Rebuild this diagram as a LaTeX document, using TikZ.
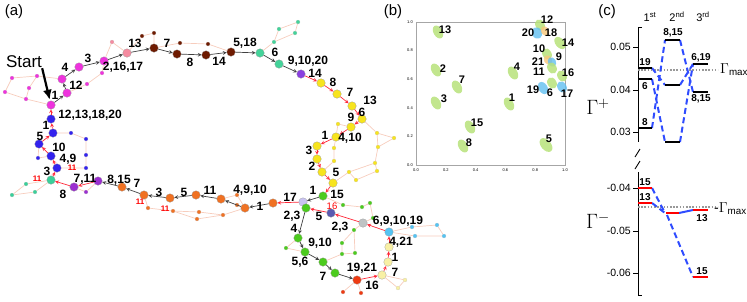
\documentclass[tikz,border=0pt]{standalone}
\usepackage{fontspec}
\setmainfont{Liberation Sans}
\usetikzlibrary{arrows.meta}
\definecolor{cmag}{HTML}{EE33DD}
\definecolor{cpink}{HTML}{F58BA0}
\definecolor{cbrown}{HTML}{6E1A00}
\definecolor{cmint}{HTML}{44D39A}
\definecolor{cviol}{HTML}{8A3FE0}
\definecolor{cyel}{HTML}{F7E41E}
\definecolor{cgreen}{HTML}{4CCB1E}
\definecolor{clav}{HTML}{C9C3F2}
\definecolor{cslate}{HTML}{5A5AB0}
\definecolor{cgray}{HTML}{BFC3C4}
\definecolor{ccyan}{HTML}{55C3F2}
\definecolor{ccream}{HTML}{F8F0A5}
\definecolor{cred}{HTML}{EE3A12}
\definecolor{corange}{HTML}{F07122}
\definecolor{cpurp}{HTML}{9B2FD0}
\definecolor{cteal}{HTML}{3ACF9A}
\definecolor{cblue}{HTML}{3322EE}
\definecolor{faint}{HTML}{F7CDBD}
\definecolor{redarr}{HTML}{FF2838}
\definecolor{dashblue}{HTML}{2F4CFF}
\definecolor{eg}{HTML}{B7E27A}
\definecolor{eb}{HTML}{62BFF0}
\definecolor{eo}{HTML}{F7C77A}
\begin{document}
\begin{tikzpicture}[x=1pt, y=-1pt, every node/.style={font=\small},
  big/.style={circle, draw=black!45, line width=0.2pt, minimum size=8.5pt, inner sep=0pt},
  sat/.style={circle, draw=black!25, line width=0.1pt, minimum size=4pt, inner sep=0pt},
  lab/.style={font=\bfseries\fontsize{12}{12}\selectfont, inner sep=0pt},
  rlab/.style={font=\bfseries\fontsize{8}{8}\selectfont, text=red, inner sep=0pt},
  blab/.style={font=\bfseries\fontsize{11}{11}\selectfont, inner sep=0pt},
  clab/.style={font=\bfseries\fontsize{10}{10}\selectfont, inner sep=0pt},
  tlab/.style={font=\fontsize{10.5}{10.5}\selectfont, inner sep=0pt, anchor=east},
  panel/.style={font=\fontsize{15}{15}\selectfont, inner sep=0pt},
  ga/.style={->, >=stealth, black!75, line width=0.7pt},
  ra/.style={->, >=stealth, redarr, line width=0.7pt},
  fe/.style={faint, line width=0.7pt},
  lvl/.style={line width=1.8pt},
  dsh/.style={dashblue, line width=2pt, dash pattern=on 6pt off 3.5pt}]
  \useasboundingbox (0,0) rectangle (747,301);

  % ---------- (a) ----------
  \node[panel] (pa) at (14,12) {(a)};
  \node[font=\fontsize{17}{17}\selectfont, inner sep=0pt] (start) at (24,62) {Start};

  % small satellite states
  \node[sat, fill=cmag] (sm1) at (12,78) {};
  \node[sat, fill=cmag] (sm2) at (5,92) {};
  \node[sat, fill=cmag] (sm3) at (26,99) {};
  \node[sat, fill=cmag] (sm4) at (29,88) {};
  \node[sat, fill=cmag] (sm5) at (37,76) {};
  \node[sat, fill=cmag] (sm6) at (87,84) {};
  \node[sat, fill=cmag] (sm7) at (102,73) {};
  \node[sat, fill=cpink] (sp1) at (112,42) {};
  \node[sat, fill=cbrown] (sb1) at (142,36) {};
  \node[sat, fill=cbrown] (sb2) at (154,33) {};
  \node[sat, fill=cbrown] (sb3) at (180,43) {};
  \node[sat, fill=cbrown] (sb4) at (208,44) {};
  \node[sat, fill=cmint] (st1) at (274,42) {};
  \node[sat, fill=cmint] (st2) at (279,29) {};
  \node[sat, fill=cmint] (st3) at (295,33) {};
  \node[sat, fill=cmint] (st4) at (298,22) {};
  \node[sat, fill=cyel] (sy1) at (338,124) {};
  \node[sat, fill=cyel] (sy2) at (334,148) {};
  \node[sat, fill=cyel] (sy3) at (334,161) {};
  \node[sat, fill=cyel] (sy4) at (377,133) {};
  \node[sat, fill=cyel] (sy5) at (394,138) {};
  \node[sat, fill=cyel] (sy6) at (378,147) {};
  \node[sat, fill=cyel] (sy7) at (375,163) {};
  \node[sat, fill=cyel] (sy8) at (349,172) {};
  \node[sat, fill=cyel] (sy9) at (356,180) {};
  \node[sat, fill=cyel] (sy10) at (377,171) {};
  \node[sat, fill=cgreen] (sg1) at (343,205) {};
  \node[sat, fill=cgreen] (sg2) at (362,207) {};
  \node[sat, fill=cgreen] (sg3) at (370,203) {};
  \node[sat, fill=cgreen] (sg4) at (373,218) {};
  \node[sat, fill=cgreen] (sg5) at (354,230) {};
  \node[sat, fill=cgreen] (sg6) at (342,243) {};
  \node[sat, fill=cgreen] (sg7) at (342,254) {};
  \node[sat, fill=cgreen] (sg8) at (355,253) {};
  \node[sat, fill=cgreen] (sg9) at (286,248) {};
  \node[sat, fill=ccyan] (sc1) at (412,227) {};
  \node[sat, fill=ccyan] (sc2) at (415,236) {};
  \node[sat, fill=ccyan] (sc3) at (437,225) {};
  \node[sat, fill=ccyan] (sc4) at (444,236) {};
  \node[sat, fill=ccream] (sk1) at (405,280) {};
  \node[sat, fill=ccream] (sk2) at (398,288) {};
  \node[sat, fill=cred] (sr1) at (343,292) {};
  \node[sat, fill=cred] (sr2) at (361,293) {};
  \node[sat, fill=corange] (so1) at (148,208) {};
  \node[sat, fill=corange] (so2) at (173,211) {};
  \node[sat, fill=corange] (so3) at (199,212) {};
  \node[sat, fill=corange] (so4) at (197,219) {};
  \node[sat, fill=corange] (so5) at (223,215) {};
  \node[sat, fill=corange] (so6) at (237,205) {};
  \node[sat, fill=corange] (so7) at (237,195) {};
  \node[sat, fill=cblue] (sl1) at (71,133) {};
  \node[sat, fill=cblue] (sl2) at (86,139) {};
  \node[sat, fill=cblue] (sl3) at (86,155) {};
  \node[sat, fill=cblue] (sl4) at (86,168) {};
  \node[sat, fill=cblue] (sl5) at (38,158) {};
  \node[sat, fill=cteal] (se1) at (26,184) {};
  \node[sat, fill=cteal] (se2) at (12,195) {};
  \node[sat, fill=cteal] (se3) at (35,192) {};
  \node[sat, fill=cpurp] (su1) at (86,192) {};

  % main states
  \node[big, fill=cmag] (mA) at (51,105) {};
  \node[big, fill=cmag] (mB) at (67,93) {};
  \node[big, fill=cmag] (mC) at (62,79) {};
  \node[big, fill=cmag] (mD) at (79,67) {};
  \node[big, fill=cmag] (mE) at (104,61) {};
  \node[big, fill=cpink] (pA) at (127,53) {};
  \node[big, fill=cbrown] (bA) at (154,48) {};
  \node[big, fill=cbrown] (bB) at (177,54) {};
  \node[big, fill=cbrown] (bC) at (206,55) {};
  \node[big, fill=cbrown] (bD) at (231,52) {};
  \node[big, fill=cmint] (tA) at (260,53) {};
  \node[big, fill=cmint] (tB) at (279,64) {};
  \node[big, fill=cviol] (vA) at (301,74) {};
  \node[big, fill=cyel] (yA) at (321,83) {};
  \node[big, fill=cyel] (yB) at (337,94) {};
  \node[big, fill=cyel] (yC) at (352,106) {};
  \node[big, fill=cyel] (yD) at (362,119) {};
  \node[big, fill=cyel] (yE) at (351,127) {};
  \node[big, fill=cyel] (yF) at (336,137) {};
  \node[big, fill=cyel] (yG) at (317,146) {};
  \node[big, fill=cyel] (yH) at (317,159) {};
  \node[big, fill=cyel] (yI) at (322,172) {};
  \node[big, fill=cyel] (yJ) at (333,183) {};
  \node[big, fill=cgreen] (gA) at (323,196) {};
  \node[big, fill=clav] (lav) at (303,202) {};
  \node[big, fill=cgreen] (gB) at (306,208) {};
  \node[big, fill=cslate] (sl) at (331,213) {};
  \node[big, fill=cgray] (gr) at (363,223) {};
  \node[big, fill=ccyan] (cy) at (389,232) {};
  \node[big, fill=ccream] (cA) at (389,247) {};
  \node[big, fill=ccream] (cB) at (388,262) {};
  \node[big, fill=ccream] (cC) at (382,275) {};
  \node[big, fill=cred] (rd) at (357,280) {};
  \node[big, fill=cgreen] (gC) at (298,238) {};
  \node[big, fill=cgreen] (gD) at (305,252) {};
  \node[big, fill=cgreen] (gE) at (323,262) {};
  \node[big, fill=cgreen] (gF) at (335,273) {};
  \node[big, fill=corange] (oA) at (273,203) {};
  \node[big, fill=corange] (oB) at (245,208) {};
  \node[big, fill=corange] (oC) at (221,199) {};
  \node[big, fill=corange] (oD) at (196,195) {};
  \node[big, fill=corange] (oE) at (170,198) {};
  \node[big, fill=corange] (oF) at (144,195) {};
  \node[big, fill=corange] (oG) at (122,187) {};
  \node[big, fill=cpurp] (uA) at (98,181) {};
  \node[big, fill=cpurp] (uB) at (74,187) {};
  \node[big, fill=cteal] (te) at (51,180) {};
  \node[big, fill=cblue] (lA) at (57,168) {};
  \node[big, fill=cblue] (lB) at (51,156) {};
  \node[big, fill=cblue] (lC) at (39,144) {};
  \node[big, fill=cblue] (lD) at (53,133) {};
  \node[big, fill=cblue] (lE) at (51,119) {};

  % faint side transitions
  \draw[fe] (mA) -- (sm3) -- (sm2) -- (sm1) -- (sm5) -- (mC);
  \draw[fe] (sm3) -- (sm4) -- (sm5);
  \draw[fe] (mB) -- (sm6) -- (sm7) -- (mE);
  \draw[fe] (mE) -- (sp1) -- (pA);
  \draw[fe] (pA) -- (sb1) -- (sb2) -- (bA);
  \draw[fe] (bA) -- (sb3) -- (sb4) -- (bD);
  \draw[fe] (tA) -- (st1) -- (st2) -- (st4) -- (st3) -- (st1);
  \draw[fe] (yD) -- (sy4) -- (sy5) -- (sy6) -- (sy4);
  \draw[fe] (yE) -- (sy1) -- (yF);
  \draw[fe] (yF) -- (sy2) -- (sy3) -- (yI);
  \draw[fe] (yJ) -- (sy8) -- (sy9) -- (sy10) -- (sy7) -- (sy6);
  \draw[fe] (sy7) -- (sy8);
  \draw[fe] (gA) -- (sg1) -- (sg2) -- (sg3) -- (sg4) -- (gr);
  \draw[fe] (gr) -- (sg5) -- (sg6) -- (sg7) -- (gE);
  \draw[fe] (sg5) -- (sg8) -- (sg7);
  \draw[fe] (gD) -- (sg9) -- (gC);
  \draw[fe] (cy) -- (sc1) -- (sc3) -- (sc4) -- (sc2) -- (cy);
  \draw[fe] (cC) -- (sk1) -- (sk2) -- (cC);
  \draw[fe] (rd) -- (sr1);
  \draw[fe] (rd) -- (sr2);
  \draw[fe] (oF) -- (so1) -- (so2) -- (so3) -- (so5) -- (oB);
  \draw[fe] (so2) -- (so4) -- (so5);
  \draw[fe] (oB) -- (so6);
  \draw[fe] (oC) -- (so7) -- (oB);
  \draw[fe] (lD) -- (sl1) -- (sl2) -- (sl3) -- (sl4) -- (lA);
  \draw[fe] (lC) -- (sl5) -- (lB);
  \draw[fe] (te) -- (se1) -- (se2) -- (se3) -- (te);
  \draw[fe] (uB) -- (su1) -- (uA);

  % optimal path
  \draw[ga] (mA) -- (mB);
  \draw[ga] (mB) -- (mC);
  \draw[ga] (mC) -- (mD);
  \draw[ga] (mD) -- (mE);
  \draw[ga] (mE) -- (pA);
  \draw[ga] (pA) -- (bA);
  \draw[ga] (bA) -- (bB);
  \draw[ga] (bB) -- (bC);
  \draw[ga] (bC) -- (bD);
  \draw[ga] (bD) -- (tA);
  \draw[ga] (tA) -- (tB);
  \draw[ga] (tB) -- (vA);
  \draw[ra] (vA) -- (yA);
  \draw[ra] (yA) -- (yB);
  \draw[ra] (yB) -- (yC);
  \draw[ra] (yC) -- (yD);
  \draw[ra] (yD) -- (yE);
  \draw[ra] (yE) -- (yF);
  \draw[ra] (yF) -- (yG);
  \draw[ra] (yG) -- (yH);
  \draw[ra] (yH) -- (yI);
  \draw[ra] (yI) -- (yJ);
  \draw[ra] (yJ) -- (gA);
  \draw[ga] (gA) -- (lav);
  \draw[ra] (lav) -- (oA);
  \draw[ga] (oA) -- (oB);
  \draw[ga] (oB) -- (oC);
  \draw[ga] (oC) -- (oD);
  \draw[ga] (oD) -- (oE);
  \draw[ga] (oE) -- (oF);
  \draw[ga] (oF) -- (oG);
  \draw[ga] (oG) -- (uA);
  \draw[ra] (uA) -- (uB);
  \draw[ra] (uB) -- (te);
  \draw[ra] (te) -- (lA);
  \draw[ra] (lA) -- (lB);
  \draw[ra] (lB) -- (lC);
  \draw[ra] (lC) -- (lD);
  \draw[ra] (lD) -- (lE);
  \draw[ra] (lE) -- (mA);
  \draw[ra] (sl) -- (gB);
  \draw[ga] (gB) -- (gC);
  \draw[ga] (gC) -- (gD);
  \draw[ga] (gD) -- (gE);
  \draw[ga] (gE) -- (gF);
  \draw[ga] (gF) -- (rd);
  \draw[ra] (rd) -- (cC);
  \draw[ra] (cC) -- (cB);
  \draw[ra] (cB) -- (cA);
  \draw[ra] (cA) -- (cy);
  \draw[ra] (cy) -- (gr);
  \draw[ra] (gr) -- (sl);
  \draw[line width=2.2pt, -{Latex[length=10pt, width=9pt]}, shorten >=1pt] (start.south east) -- (mA);

  % control labels
  \node[lab] (t1) at (55,95) {1};
  \node[lab] (t2) at (76,85) {12};
  \node[lab] (t3) at (65,67) {4};
  \node[lab] (t4) at (88,58) {3};
  \node[lab] (t5) at (123,67) {2,16,17};
  \node[lab] (t6) at (135,43) {13};
  \node[lab] (t7) at (167,43) {7};
  \node[lab] (t8) at (190,62) {8};
  \node[lab] (t9) at (219,61) {14};
  \node[lab] (t10) at (245,43) {5,18};
  \node[lab] (t11) at (275,52) {6};
  \node[lab] (t12) at (308,61) {9,10,20};
  \node[lab] (t13) at (315,73) {14};
  \node[lab] (t14) at (333,82) {8};
  \node[lab] (t15) at (350,92) {7};
  \node[lab] (t16) at (370,100) {13};
  \node[lab] (t17) at (362,112) {6};
  \node[lab] (t18) at (351,117) {9};
  \node[lab] (t19) at (325,135) {1};
  \node[lab] (t20) at (350,138) {4,10};
  \node[lab] (t21) at (309,150) {3};
  \node[lab] (t22) at (312,166) {2};
  \node[lab] (t23) at (336,172) {5};
  \node[lab] (t24) at (337,194) {15};
  \node[lab] (t25) at (313,190) {1};
  \node[lab] (t26) at (290,197) {17};
  \node[lab] (t27) at (260,206) {1};
  \node[lab] (t28) at (250,190) {4,9,10};
  \node[lab] (t29) at (210,190) {11};
  \node[lab] (t30) at (184,192) {5};
  \node[lab] (t31) at (159,192) {3};
  \node[lab] (t32) at (137,183) {7};
  \node[lab] (t33) at (119,180) {8,15};
  \node[lab] (t34) at (85,179) {7,11};
  \node[lab] (t35) at (63,194) {8};
  \node[lab] (t36) at (47,171) {3};
  \node[lab] (t37) at (68,159) {4,9};
  \node[lab] (t38) at (59,147) {10};
  \node[lab] (t39) at (40,136) {5};
  \node[lab] (t40) at (46,125) {1};
  \node[lab] (t41) at (90,115) {12,13,18,20};
  \node[lab] (t42) at (292,216) {2,3};
  \node[lab] (t43) at (319,216) {5};
  \node[lab] (t44) at (294,228) {4};
  \node[lab] (t45) at (320,243) {9,10};
  \node[lab] (t46) at (300,262) {5,6};
  \node[lab] (t47) at (323,276) {7};
  \node[lab] (t48) at (362,268) {19,21};
  \node[lab] (t49) at (372,285) {16};
  \node[lab] (t50) at (395,272) {7};
  \node[lab] (t51) at (395,257) {1};
  \node[lab] (t52) at (401,242) {4,21};
  \node[lab] (t53) at (398,221) {6,9,10,19};
  \node[lab] (t54) at (340,227) {2,3};
  \node[rlab] (r1) at (72,168) {11};
  \node[rlab] (r2) at (37,179) {11};
  \node[rlab] (r3) at (140,202) {11};
  \node[rlab] (r4) at (165,209) {11};
  \node[rlab, font=\fontsize{9.5}{9.5}\selectfont] (r5) at (332,206) {16};

  % ---------- (b) ----------
  \node[panel] (pb) at (393,12) {(b)};
  \draw[gray!70, line width=0.8pt] (416,22) rectangle (565,165);
  \foreach \v/\t in {0/0.0, 1/0.2, 2/0.4, 3/0.6, 4/0.8, 5/1.0} {
    \node[font=\fontsize{4}{4}\selectfont, inner sep=0pt] (yt\v) at (410,165-28.6*\v) {\t};
    \node[font=\fontsize{4}{4}\selectfont, inner sep=0pt] (xt\v) at (416+29.8*\v,170) {\t};
  }
  \fill[eg, opacity=0.85] (438,32) ellipse [x radius=7pt, y radius=4.5pt, rotate=-60];
  \fill[eg, opacity=0.85] (436,70) ellipse [x radius=7pt, y radius=4.5pt, rotate=-60];
  \fill[eg, opacity=0.85] (436,103) ellipse [x radius=7pt, y radius=4.5pt, rotate=-60];
  \fill[eg, opacity=0.85] (457,87) ellipse [x radius=7pt, y radius=4.5pt, rotate=-60];
  \fill[eg, opacity=0.85] (513,73) ellipse [x radius=7pt, y radius=4.5pt, rotate=-60];
  \fill[eg, opacity=0.85] (509,104) ellipse [x radius=7pt, y radius=4.5pt, rotate=-60];
  \fill[eg, opacity=0.85] (470,127) ellipse [x radius=7pt, y radius=4.5pt, rotate=-60];
  \fill[eg, opacity=0.85] (463,146) ellipse [x radius=7pt, y radius=4.5pt, rotate=-60];
  \fill[eg, opacity=0.85] (546,145) ellipse [x radius=8pt, y radius=5pt, rotate=-50];
  \fill[eg, opacity=0.85] (540,25) ellipse [x radius=6pt, y radius=4.5pt, rotate=-60];
  \fill[eb, opacity=0.8] (537,33) ellipse [x radius=6pt, y radius=5pt, rotate=-60];
  \fill[eo, opacity=0.8] (545,31) ellipse [x radius=5pt, y radius=4pt, rotate=-60];
  \fill[eg, opacity=0.85] (560,43) ellipse [x radius=7pt, y radius=4.5pt, rotate=-50];
  \fill[eg, opacity=0.85] (547,54) ellipse [x radius=6pt, y radius=4.5pt, rotate=-60];
  \fill[eo, opacity=0.8] (548,60) ellipse [x radius=5pt, y radius=4pt, rotate=-60];
  \fill[eb, opacity=0.8] (552,62) ellipse [x radius=5pt, y radius=4pt, rotate=-60];
  \fill[eg, opacity=0.85] (552,68) ellipse [x radius=6pt, y radius=4.5pt, rotate=-60];
  \fill[eg, opacity=0.85] (562,76) ellipse [x radius=6pt, y radius=4.5pt, rotate=-60];
  \fill[eg, opacity=0.85] (552,83) ellipse [x radius=6pt, y radius=4.5pt, rotate=-60];
  \fill[eb, opacity=0.8] (543,88) ellipse [x radius=6.5pt, y radius=4.5pt, rotate=-60];
  \fill[eb, opacity=0.8] (562,87) ellipse [x radius=6pt, y radius=4.5pt, rotate=-60];
  \node[blab] (b13) at (445,30) {13};
  \node[blab] (b2) at (443,69) {2};
  \node[blab] (b3) at (444,99) {3};
  \node[blab] (b7) at (462,80) {7};
  \node[blab] (b4) at (517,67) {4};
  \node[blab] (b1) at (512,98) {1};
  \node[blab] (b15) at (477,123) {15};
  \node[blab] (b8) at (469,143) {8};
  \node[blab] (b5) at (549,139) {5};
  \node[blab] (b12) at (547,20) {12};
  \node[blab] (b20) at (528,33) {20};
  \node[blab] (b18) at (551,33) {18};
  \node[blab] (b14) at (568,43) {14};
  \node[blab] (b10) at (539,49) {10};
  \node[blab] (b9) at (559,57) {9};
  \node[blab] (b21) at (538,62) {21};
  \node[blab] (b11) at (539,72) {11};
  \node[blab] (b16) at (568,73) {16};
  \node[blab] (b19) at (533,90) {19};
  \node[blab] (b6) at (550,93) {6};
  \node[blab] (b17) at (567,94) {17};

  % ---------- (c) ----------
  \node[panel] (pc) at (607,12) {(c)};
  \node[font=\fontsize{11}{11}\selectfont, inner sep=0pt] (h1) at (650,17) {1\textsuperscript{st}};
  \node[font=\fontsize{11}{11}\selectfont, inner sep=0pt] (h2) at (677,17) {2\textsuperscript{nd}};
  \node[font=\fontsize{11}{11}\selectfont, inner sep=0pt] (h3) at (703,17) {3\textsuperscript{rd}};
  \draw[line width=0.9pt] (642,27) -- (638,27) -- (638,142);
  \draw[line width=0.9pt] (638,172) -- (638,295) -- (642,295);
  \draw[line width=0.9pt] (635,157) -- (640,149);
  \draw[line width=0.9pt] (635,169) -- (640,161);
  \draw[line width=0.9pt] (633,47) -- (638,47);
  \draw[line width=0.9pt] (633,90) -- (638,90);
  \draw[line width=0.9pt] (633,132) -- (638,132);
  \draw[line width=0.9pt] (633,188) -- (638,188);
  \draw[line width=0.9pt] (633,231) -- (638,231);
  \draw[line width=0.9pt] (633,273) -- (638,273);
  \node[tlab] (y1) at (631,47) {0.05};
  \node[tlab] (y2) at (631,90) {0.04};
  \node[tlab] (y3) at (631,132) {0.03};
  \node[tlab] (y4) at (631,188) {-0.04};
  \node[tlab] (y5) at (631,231) {-0.05};
  \node[tlab] (y6) at (631,273) {-0.06};
  \node[font=\fontsize{20}{20}\selectfont, inner sep=0pt] (gp) at (598,107) {$\Gamma^{+}$};
  \node[font=\fontsize{20}{20}\selectfont, inner sep=0pt] (gm) at (598,221) {$\Gamma^{-}$};

  \draw[gray!80, line width=1.6pt, dash pattern=on 1.6pt off 1.6pt] (638,70) -- (718,70);
  \draw[gray!80, line width=1.6pt, dash pattern=on 1.6pt off 1.6pt] (638,207) -- (718,207);
  \node[font=\fontsize{14}{14}\selectfont, inner sep=0pt, anchor=west] (gx1) at (720,70) {$\Gamma_{\mathrm{max}}$};
  \node[font=\fontsize{14}{14}\selectfont, inner sep=0pt, anchor=west] (gx2) at (714,209) {-$\Gamma_{\mathrm{max}}$};

  % dominant transitions
  \draw[dsh] (652,68) -- (665,85);
  \draw[dsh] (680,85) -- (693,64);
  \draw[dsh] (652,79) -- (665,142);
  \draw[dsh] (680,142) -- (693,64);
  \draw[dsh] (652,128) -- (665,40);
  \draw[dsh] (680,40) -- (693,92);
  \draw[dsh] (652,188) -- (665,213);
  \draw[dsh] (652,203) -- (665,213);
  \draw[dashblue, line width=2pt] (679,213) -- (693,210);
  \draw[dsh] (667,215) -- (693,277);

  % levels
  \draw[lvl] (638,68) -- (652,68);
  \draw[lvl] (638,79) -- (652,79);
  \draw[lvl] (638,128) -- (652,128);
  \draw[lvl] (665,40) -- (680,40);
  \draw[lvl] (665,85) -- (680,85);
  \draw[lvl] (665,142) -- (680,142);
  \draw[lvl] (693,64) -- (708,64);
  \draw[lvl] (693,92) -- (708,92);
  \draw[lvl, red] (638,188) -- (652,188);
  \draw[lvl, red] (638,203) -- (652,203);
  \draw[lvl, red] (666,213) -- (679,213);
  \draw[lvl, red] (693,210) -- (708,210);
  \draw[lvl, red] (693,277) -- (708,277);
  \node[clab] (c19) at (645,62) {19};
  \node[clab] (c6) at (645,86) {6};
  \node[clab] (c8) at (645,122) {8};
  \node[clab] (c815a) at (673,33) {8,15};
  \node[clab] (c619) at (701,58) {6,19};
  \node[clab] (c815b) at (701,99) {8,15};
  \node[clab] (c15a) at (645,182) {15};
  \node[clab] (c13a) at (645,197) {13};
  \node[clab] (c13b) at (702,218) {13};
  \node[clab] (c15b) at (702,271) {15};
\end{tikzpicture}
\end{document}
